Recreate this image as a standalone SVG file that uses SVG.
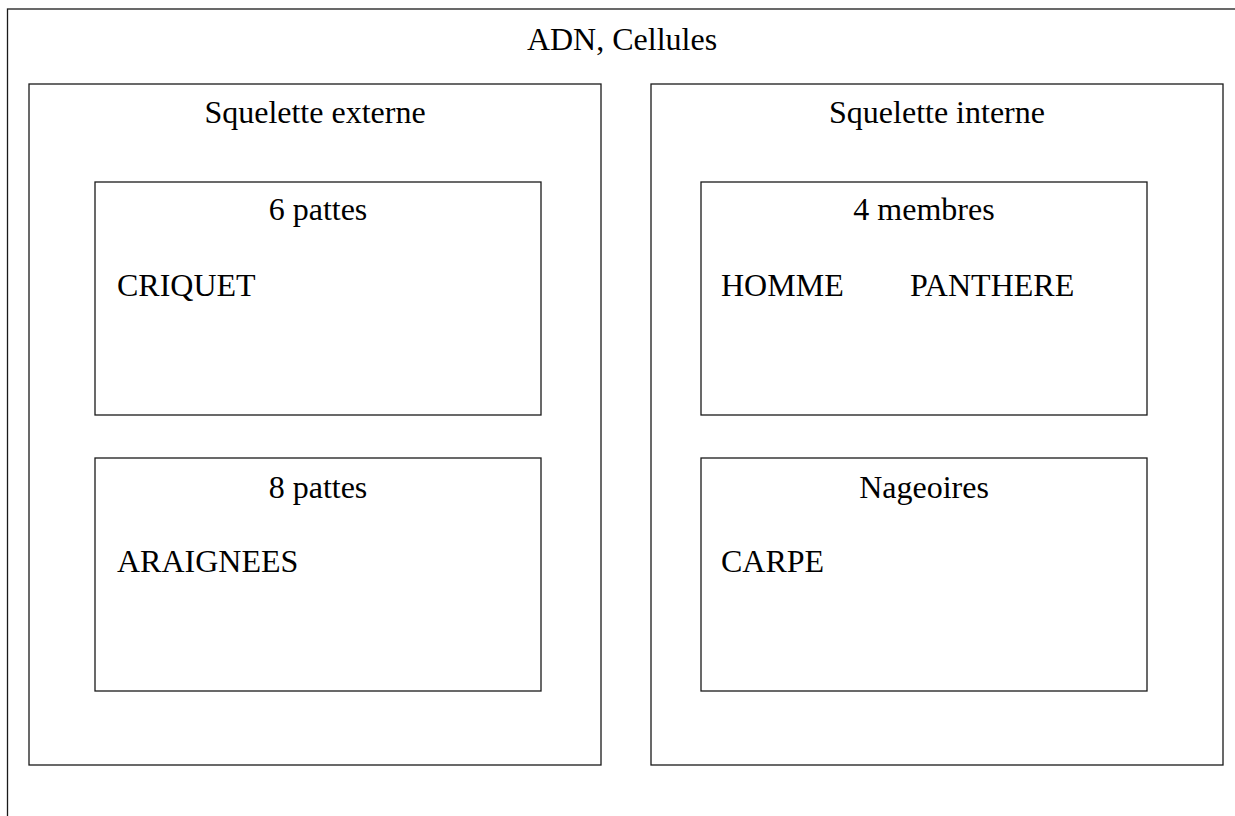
<svg xmlns="http://www.w3.org/2000/svg" width="1235" height="816" viewBox="0 0 1235 816">
<style>
.box{fill:none;stroke:#1a1a1a;stroke-width:1.3}
.t{font-family:"Liberation Serif","Times New Roman",serif;font-size:32px;fill:#000}
.c{text-anchor:middle}
</style>
<rect width="1235" height="816" fill="#fff"/>
<g id="adn-cellules">
<rect class="box" x="7.5" y="9" width="1240" height="820"/>
<text class="t c" x="622" y="50">ADN, Cellules</text>
</g>
<g id="squelette-externe">
<rect class="box" x="29" y="84" width="572" height="681"/>
<text class="t c" x="315" y="123">Squelette externe</text>
</g>
<g id="squelette-interne">
<rect class="box" x="651" y="84" width="572" height="681"/>
<text class="t c" x="937" y="123">Squelette interne</text>
</g>
<g id="six-pattes">
<rect class="box" x="95" y="182" width="446" height="233"/>
<text class="t c" x="318" y="220">6 pattes</text>
<text class="t" x="117" y="296">CRIQUET</text>
</g>
<g id="huit-pattes">
<rect class="box" x="95" y="458" width="446" height="233"/>
<text class="t c" x="318" y="498">8 pattes</text>
<text class="t" x="117" y="572">ARAIGNEES</text>
</g>
<g id="quatre-membres">
<rect class="box" x="701" y="182" width="446" height="233"/>
<text class="t c" x="924" y="220">4 membres</text>
<text class="t" x="721" y="296">HOMME</text>
<text class="t" x="910" y="296">PANTHERE</text>
</g>
<g id="nageoires">
<rect class="box" x="701" y="458" width="446" height="233"/>
<text class="t c" x="924" y="498">Nageoires</text>
<text class="t" x="721" y="572">CARPE</text>
</g>
<g id="connectors"></g>
</svg>
